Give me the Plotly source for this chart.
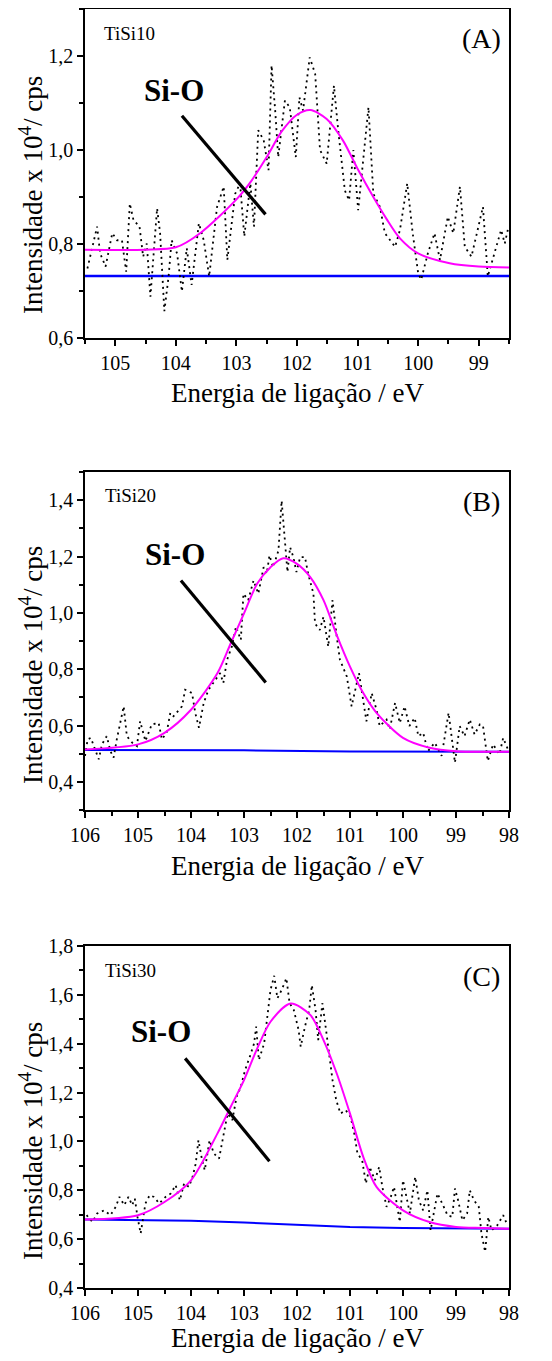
import plotly.graph_objects as go

# ---------------- data ----------------
A_E = [105.46,105.30,105.25,105.16,105.05,104.97,104.89,104.82,104.76,104.70,
       104.60,104.54,104.48,104.42,104.31,104.26,104.19,104.12,104.07,103.98,
       103.90,103.82,103.74,103.62,103.54,103.45,103.32,103.21,103.15,103.02,
       102.94,102.87,102.77,102.71,102.64,102.55,102.47,102.42,102.36,102.31,
       102.20,102.12,102.02,101.96,101.90,101.79,101.70,101.62,101.51,101.39,
       101.32,101.21,101.14,101.07,100.99,100.82,100.74,100.63,100.55,100.38,
       100.30,100.18,100.09,100.00,99.95,99.84,99.73,99.64,99.51,99.42,
       99.31,99.23,99.12,98.93,98.85,98.76,98.63,98.57,98.52]
A_I = [0.748,0.837,0.780,0.752,0.823,0.808,0.808,0.741,0.886,0.851,
       0.837,0.773,0.801,0.688,0.876,0.823,0.657,0.731,0.808,0.780,
       0.699,0.791,0.713,0.844,0.808,0.731,0.879,0.922,0.766,0.907,
       0.929,0.816,0.929,0.837,1.042,1.021,0.957,1.180,1.084,0.985,
       1.105,1.091,0.985,1.112,1.084,1.197,1.162,1.000,0.971,1.137,
       1.042,0.914,0.893,1.000,0.872,1.091,0.907,0.879,0.823,0.794,
       0.830,0.929,0.823,0.738,0.724,0.780,0.823,0.766,0.858,0.823,
       0.922,0.794,0.773,0.879,0.731,0.773,0.830,0.801,0.830]
A_FIT_E = [105.5,104.5,104.0,103.6,103.0,102.75,102.5,102.25,102.0,101.78,
           101.51,101.24,101.0,100.74,100.52,100.30,100.0,99.48,99.0,98.5]
A_FIT_I = [0.788,0.788,0.793,0.823,0.895,0.935,0.985,1.040,1.075,1.085,
           1.066,1.020,0.960,0.900,0.853,0.812,0.780,0.759,0.752,0.750]
A_BG_E = [105.5, 98.5]
A_BG_I = [0.732, 0.732]
A_PTR_E = [103.90, 102.52]
A_PTR_I = [1.073, 0.863]

B_E = [106.00,105.95,105.89,105.81,105.74,105.68,105.59,105.52,105.46,105.40,
       105.27,105.21,105.11,105.02,104.96,104.86,104.74,104.61,104.55,104.46,
       104.39,104.33,104.27,104.17,104.11,103.98,103.92,103.85,103.76,103.67,
       103.54,103.45,103.39,103.32,103.23,103.15,103.06,103.01,102.92,102.82,
       102.73,102.63,102.57,102.52,102.45,102.35,102.29,102.23,102.18,102.13,
       102.07,102.01,101.94,101.85,101.79,101.69,101.66,101.57,101.50,101.41,
       101.33,101.25,101.19,101.06,100.97,100.83,100.75,100.69,100.59,100.50,
       100.44,100.31,100.25,100.15,100.06,99.97,99.88,99.78,99.71,99.62,
       99.53,99.40,99.27,99.14,99.02,98.93,98.84,98.74,98.65,98.55,
       98.49,98.40,98.30,98.18,98.11,98.02]
B_I = [0.492,0.551,0.556,0.515,0.480,0.533,0.562,0.509,0.486,0.551,
       0.668,0.562,0.539,0.527,0.615,0.545,0.604,0.609,0.551,0.574,
       0.645,0.633,0.645,0.668,0.727,0.715,0.645,0.592,0.680,0.727,
       0.762,0.786,0.751,0.833,0.880,0.951,0.904,1.068,1.045,1.115,
       1.068,1.162,1.139,1.204,1.162,1.221,1.398,1.268,1.145,1.233,
       1.198,1.145,1.198,1.198,1.139,1.068,0.962,0.939,0.986,0.880,
       1.045,0.915,0.833,0.774,0.668,0.786,0.692,0.615,0.715,0.656,
       0.598,0.621,0.586,0.680,0.609,0.668,0.598,0.627,0.562,0.574,
       0.509,0.539,0.492,0.645,0.468,0.598,0.562,0.621,0.568,0.604,
       0.598,0.474,0.533,0.498,0.556,0.515]
B_FIT_E = [106,105,104.5,104,103.5,103.25,103,102.75,102.5,102.26,102,
           101.75,101.5,101.25,101,100.75,100.5,100,99.5,99,98]
B_FIT_I = [0.515,0.533,0.574,0.656,0.786,0.892,0.998,1.104,1.162,1.194,1.174,
           1.127,1.045,0.921,0.809,0.715,0.645,0.556,0.521,0.509,0.507]
B_BG_E = [106, 103, 101, 98]
B_BG_I = [0.513, 0.512, 0.508, 0.507]
B_PTR_E = [104.19, 102.59]
B_PTR_I = [1.115, 0.753]

C_E = [105.97,105.86,105.77,105.64,105.52,105.42,105.35,105.26,105.18,105.11,
       105.06,105.01,104.95,104.91,104.86,104.78,104.70,104.60,104.48,104.38,
       104.29,104.21,104.13,104.04,103.97,103.91,103.86,103.79,103.74,103.65,
       103.57,103.47,103.40,103.31,103.22,103.14,103.06,102.98,102.89,102.81,
       102.77,102.72,102.62,102.56,102.50,102.43,102.37,102.29,102.20,102.14,
       102.06,101.97,101.93,101.85,101.77,101.72,101.65,101.60,101.52,101.46,
       101.40,101.33,101.26,101.18,101.08,100.99,100.92,100.86,100.77,100.70,
       100.63,100.53,100.45,100.39,100.31,100.23,100.17,100.11,100.06,100.00,
       99.94,99.87,99.77,99.70,99.62,99.54,99.48,99.42,99.35,99.26,
       99.16,99.07,99.02,98.96,98.88,98.79,98.74,98.66,98.57,98.52,
       98.45,98.39,98.33,98.22,98.11,98.03]
C_I = [0.698,0.670,0.705,0.718,0.698,0.732,0.773,0.739,0.773,0.739,
       0.766,0.691,0.623,0.677,0.746,0.780,0.773,0.746,0.773,0.787,
       0.821,0.759,0.828,0.814,0.855,0.910,1.005,0.923,0.882,1.005,
       0.951,0.930,1.005,1.114,1.087,1.183,1.224,1.292,1.347,1.401,
       1.470,1.333,1.401,1.518,1.620,1.678,1.586,1.620,1.668,1.566,
       1.538,1.456,1.388,1.470,1.538,1.640,1.538,1.415,1.566,1.470,
       1.360,1.251,1.169,1.114,1.128,1.101,1.033,0.951,0.923,0.828,
       0.896,0.841,0.896,0.814,0.732,0.773,0.814,0.732,0.670,0.841,
       0.773,0.705,0.855,0.759,0.718,0.800,0.636,0.705,0.787,0.746,
       0.698,0.691,0.807,0.759,0.677,0.705,0.800,0.759,0.732,0.623,
       0.548,0.691,0.636,0.657,0.698,0.657]
C_FIT_E = [106,105,104.5,104,103.5,103.25,103,102.75,102.5,102.12,101.75,
           101.5,101.25,101,100.75,100.5,100,99.5,99,98.5,98]
C_FIT_I = [0.680,0.698,0.752,0.841,1.033,1.142,1.251,1.381,1.490,1.565,1.518,
           1.415,1.278,1.114,0.937,0.814,0.718,0.670,0.650,0.646,0.643]
C_BG_E = [106, 104, 103, 102, 101, 100, 99, 98]
C_BG_I = [0.680, 0.675, 0.668, 0.660, 0.650, 0.646, 0.645, 0.643]
C_PTR_E = [104.11, 102.52]
C_PTR_I = [1.340, 0.919]

SAMPLES = ["TiSi10", "TiSi20", "TiSi30"]
PANEL_TAGS = ["(A)", "(B)", "(C)"]
PEAK_LABEL = "Si-O"
X_TITLE = "Energia de ligação / eV"
Y_TITLE = "Intensidade x 10<sup>4</sup>/ cps"

# ---------------- layout / styling ----------------
# The HTML page body has an 8px margin, so page coordinates are shifted by OFF.
OFF = 8
W, H = 552 - 2 * OFF, 1361 - 2 * OFF
FONT = "Liberation Serif"
X0, X1 = 85 - OFF, 509 - OFF


def fy(page_y):
    """page pixel row -> paper fraction"""
    return 1 - (page_y - OFF) / H


def fx(page_x):
    return (page_x - OFF) / W


panels = [
    dict(top=9, bottom=338, xr=[105.5, 98.5], yr=[0.6, 1.3], tick0=0.6,
         data=(A_E, A_I), fit=(A_FIT_E, A_FIT_I), bg=(A_BG_E, A_BG_I), ptr=(A_PTR_E, A_PTR_I),
         sample_pos=(104.76, 1.247), tag_pos=(98.96, 1.238), peak_pos=(104.03, 1.127),
         ytitle_y=195, xtitle_y=393, bgw=2.5),
    dict(top=472, bottom=810, xr=[106, 98], yr=[0.3, 1.5], tick0=0.4,
         data=(B_E, B_I), fit=(B_FIT_E, B_FIT_I), bg=(B_BG_E, B_BG_I), ptr=(B_PTR_E, B_PTR_I),
         sample_pos=(105.15, 1.415), tag_pos=(98.52, 1.394), peak_pos=(104.30, 1.206),
         ytitle_y=665, xtitle_y=866, bgw=2),
    dict(top=946, bottom=1288, xr=[106, 98], yr=[0.4, 1.8], tick0=0.4,
         data=(C_E, C_I), fit=(C_FIT_E, C_FIT_I), bg=(C_BG_E, C_BG_I), ptr=(C_PTR_E, C_PTR_I),
         sample_pos=(105.14, 1.698), tag_pos=(98.52, 1.675), peak_pos=(104.57, 1.449),
         ytitle_y=1141, xtitle_y=1338, bgw=2),
]

fig = go.Figure()
annotations = []
for i, p in enumerate(panels):
    n = "" if i == 0 else str(i + 1)
    xa, ya = "x" + n, "y" + n
    fig.add_trace(go.Scatter(x=p["bg"][0], y=p["bg"][1], mode="lines",
                             line=dict(color="#0000FF", width=p["bgw"]),
                             xaxis=xa, yaxis=ya, showlegend=False, hoverinfo="skip"))
    fig.add_trace(go.Scatter(x=p["data"][0], y=p["data"][1], mode="lines",
                             line=dict(color="black", width=1.8, dash="2px,4px"),
                             xaxis=xa, yaxis=ya, showlegend=False))
    fig.add_trace(go.Scatter(x=p["fit"][0], y=p["fit"][1], mode="lines",
                             line=dict(color="#FF00FF", width=2, shape="spline", smoothing=0.8),
                             xaxis=xa, yaxis=ya, showlegend=False))
    fig.add_trace(go.Scatter(x=p["ptr"][0], y=p["ptr"][1], mode="lines",
                             line=dict(color="black", width=3.2),
                             xaxis=xa, yaxis=ya, showlegend=False, hoverinfo="skip"))
    dom_y = [fy(p["bottom"]), fy(p["top"])]
    axis_common = dict(showline=True, linecolor="black", linewidth=1.5, mirror=True,
                       ticks="outside", ticklen=6, tickwidth=1.5, tickcolor="black",
                       showgrid=False, zeroline=False, automargin=False,
                       tickfont=dict(family=FONT, size=20, color="black"))
    fig.update_layout(**{
        "xaxis" + n: dict(domain=[X0 / W, X1 / W], anchor=ya, range=p["xr"], dtick=1,
                          minor=dict(ticks="outside", ticklen=4, tickwidth=1.5, dtick=0.5,
                                     tickcolor="black", showgrid=False),
                          **axis_common),
        "yaxis" + n: dict(domain=dom_y, anchor=xa, range=p["yr"], dtick=0.2, tick0=p["tick0"],
                          tickformat=".1f",
                          minor=dict(ticks="outside", ticklen=4, tickwidth=1.5, dtick=0.1,
                                     tickcolor="black", showgrid=False),
                          **axis_common),
    })
    annotations += [
        dict(x=p["sample_pos"][0], y=p["sample_pos"][1], xref=xa, yref=ya, text=SAMPLES[i],
             showarrow=False, font=dict(family=FONT, size=19, color="black")),
        dict(x=p["tag_pos"][0], y=p["tag_pos"][1], xref=xa, yref=ya, text=PANEL_TAGS[i],
             showarrow=False, font=dict(family=FONT, size=28, color="black")),
        dict(x=p["peak_pos"][0], y=p["peak_pos"][1], xref=xa, yref=ya,
             text="<b>" + PEAK_LABEL + "</b>",
             showarrow=False, font=dict(family=FONT, size=31, color="black")),
        dict(x=fx(297), y=fy(p["xtitle_y"]), xref="paper", yref="paper", text=X_TITLE,
             showarrow=False, yanchor="middle",
             font=dict(family=FONT, size=27, color="black")),
        dict(x=fx(31), y=fy(p["ytitle_y"]), xref="paper", yref="paper", text=Y_TITLE,
             showarrow=False, textangle=-90, xanchor="center", yanchor="middle",
             font=dict(family=FONT, size=27, color="black")),
    ]

fig.update_layout(template="none", width=W, height=H,
                  margin=dict(l=0, r=0, t=0, b=0, autoexpand=False),
                  paper_bgcolor="white", plot_bgcolor="white",
                  separators=",.", annotations=annotations,
                  font=dict(family=FONT, color="black"))
fig.write_html("out.html")
